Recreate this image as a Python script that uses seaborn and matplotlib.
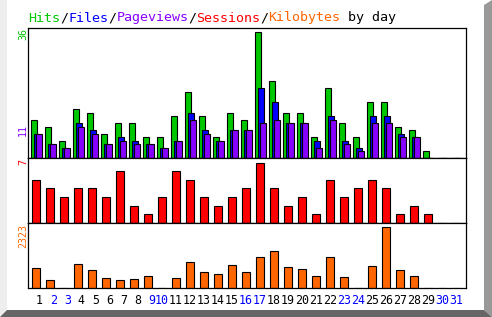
import matplotlib
matplotlib.use("Agg")
import matplotlib.pyplot as plt
import seaborn as sns
import numpy as np
import pandas as pd
from matplotlib.patches import Polygon

# ---- data ----
days = list(range(1, 32))
hits = [11, 9, 5, 14, 13, 7, 10, 10, 6, 6, 12, 19, 12, 6, 13, 11, 36, 22, 13, 13, 6, 20, 10, 6, 16, 16, 9, 8, 2, 0, 0]
files = [7, 4, 3, 10, 8, 4, 6, 5, 4, 3, 5, 13, 8, 5, 8, 8, 20, 16, 10, 10, 5, 12, 5, 3, 12, 12, 7, 6, 0, 0, 0]
pages = [7, 4, 3, 9, 7, 4, 5, 4, 4, 3, 5, 11, 7, 5, 8, 8, 10, 11, 10, 10, 3, 11, 4, 2, 10, 10, 6, 6, 0, 0, 0]
visits = [5, 4, 3, 4, 4, 3, 6, 2, 1, 3, 6, 5, 3, 2, 3, 4, 7, 4, 2, 3, 1, 5, 3, 4, 5, 4, 1, 2, 1, 0, 0]
kbytes = [754, 295, 0, 907, 677, 371, 295, 333, 448, 0, 371, 984, 601, 524, 869, 601,
          1175, 1405, 792, 716, 448, 1175, 410, 0, 830, 2323, 677, 448, 0, 0, 0]
weekend_days = [2, 3, 9, 10, 16, 17, 23, 24, 30, 31]
title_parts = [("Hits", "#00c800"), ("/", "black"), ("Files", "#0000ff"), ("/", "black"),
               ("Pageviews", "#8800ff"), ("/", "black"), ("Sessions", "#ff0000"), ("/", "black"),
               ("Kilobytes", "#ff6600"), (" by day", "black")]

C_HIT, C_FILE, C_PAGE, C_VISIT, C_KB = "#00c800", "#0000ff", "#8800ff", "#ff0000", "#ff6600"

W, H = 492, 317
fig = plt.figure(figsize=(W / 100, H / 100), dpi=100)
fig.patch.set_facecolor("white")

def fx(px):
    return px / W

def fy(py):
    return 1 - py / H

# frame bevels
fig.patches.append(Polygon([(fx(0), fy(0)), (fx(7), fy(0)), (fx(7), fy(310)), (fx(0), fy(317))],
                           closed=True, transform=fig.transFigure, facecolor="#eeeeee", edgecolor="none"))
fig.patches.append(Polygon([(fx(484), fy(5)), (fx(492), fy(0)), (fx(492), fy(317)), (fx(484), fy(310))],
                           closed=True, transform=fig.transFigure, facecolor="#999999", edgecolor="none"))
fig.patches.append(Polygon([(fx(0), fy(317)), (fx(7), fy(310)), (fx(484), fy(310)), (fx(492), fy(317))],
                           closed=True, transform=fig.transFigure, facecolor="#666666", edgecolor="none"))

left_px, right_px = 28, 465.5
def make_ax(top_px, bot_px):
    ax = fig.add_axes([fx(left_px), fy(bot_px), (right_px - left_px) / W, (bot_px - top_px) / H])
    ax.set_facecolor("white")
    for s in ax.spines.values():
        s.set_linewidth(0.9)
        s.set_color("black")
    return ax

ax1 = make_ax(28.3, 158.3)
ax2 = make_ax(158.3, 223)
ax3 = make_ax(223, 288)

px_per_day = 14.0
L = 1 - (36.3 - left_px) / px_per_day
R = L + (right_px - left_px) / px_per_day
d = np.array(days, dtype=float)

def bars(ax, offset_px, width_px, vals, color):
    df = pd.DataFrame({"pos": d + offset_px / px_per_day, "val": vals})
    sns.barplot(data=df, x="pos", y="val", native_scale=True, orient="x", ax=ax,
                color=color, saturation=1, width=width_px / px_per_day,
                edgecolor="black", linewidth=0.8, errorbar=None)

bars(ax1, -2, 6, hits, C_HIT)
bars(ax1, 1, 6, files, C_FILE)
bars(ax1, 3, 6, pages, C_PAGE)
bars(ax2, 0, 8, visits, C_VISIT)
bars(ax3, 0, 8, kbytes, C_KB)

ax1.set_ylim(0, 130 / 3.5)
ax2.set_ylim(0, 65 / 8.67)
ax3.set_ylim(0, max(kbytes) * 65 / 60.7)

for ax in (ax1, ax2, ax3):
    ax.set_xlim(L, R)
    ax.set_xlabel("")
    ax.set_ylabel("")
    ax.set_yticks([])
    ax.tick_params(axis="x", length=0)
for ax in (ax1, ax2):
    ax.set_xticks([])

ax3.set_xticks(d + 0.47)
ax3.set_xticklabels([str(x) for x in days], fontfamily="DejaVu Sans Mono", fontsize=8.4, ha="right")
ax3.tick_params(axis="x", pad=4)
for lab, day in zip(ax3.get_xticklabels(), days):
    lab.set_color(C_FILE if day in weekend_days else "black")

# title
x0 = 28.5
for txt, col in title_parts:
    fig.text(fx(x0), fy(18), txt, color=col, fontfamily="DejaVu Sans Mono", fontsize=9.6,
             ha="left", va="center")
    x0 += 8.0 * len(txt)

# y max labels
lab_kw = dict(fontfamily="DejaVu Sans Mono", fontsize=7.2, rotation=90, ha="center", va="top")
fig.text(fx(23), fy(28.5), str(max(hits)), color=C_HIT, **lab_kw)
ax1.annotate(str(max(pages)), xy=(0, max(pages)), xycoords=("axes fraction", "data"),
             xytext=(-5 * 0.72, -4 * 0.72), textcoords="offset points", color=C_PAGE, **lab_kw)
fig.text(fx(23), fy(159), str(max(visits)), color=C_VISIT, **lab_kw)
fig.text(fx(23), fy(224.5), str(max(kbytes)), color=C_KB, **lab_kw)

fig.savefig("out.png", dpi=100, facecolor="white")
